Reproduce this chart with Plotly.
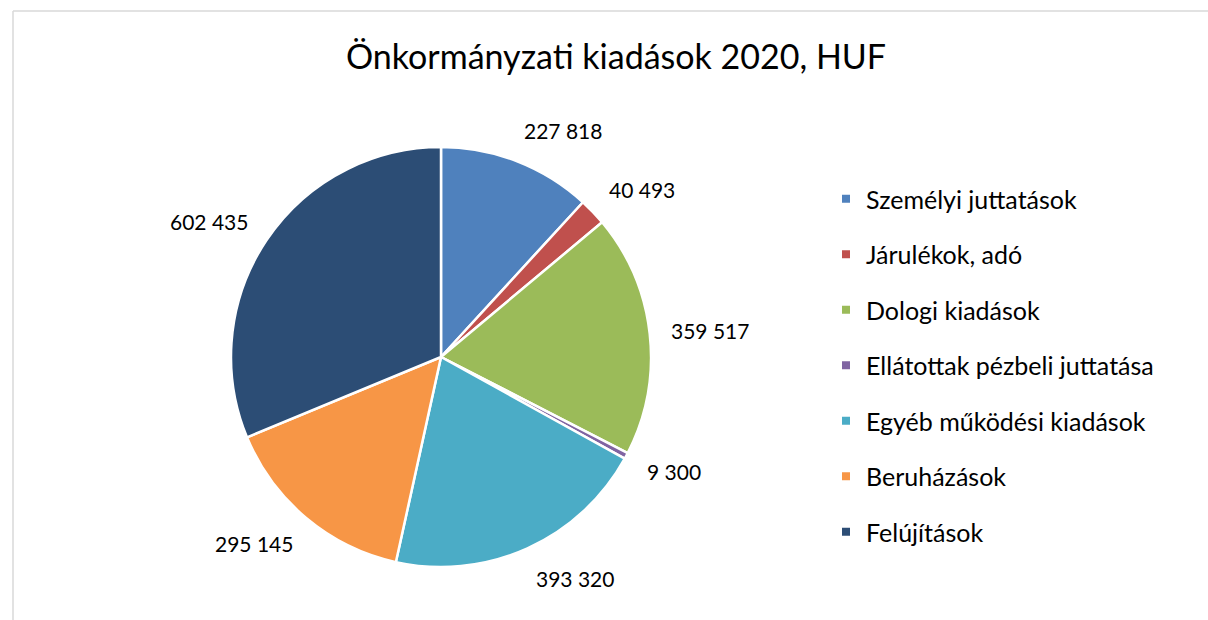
import math
import plotly.graph_objects as go

categories = ["Személyi juttatások", "Járulékok, adó", "Dologi kiadások",
              "Ellátottak pézbeli juttatása", "Egyéb működési kiadások",
              "Beruházások", "Felújítások"]
values = [227818, 40493, 359517, 9300, 393320, 295145, 602435]
colors = ["#4F81BD", "#C0504D", "#9BBB59", "#8064A2", "#4BACC6", "#F79646", "#2C4D75"]
title_text = "Önkormányzati kiadások 2020, HUF"

W, H = 1208, 620
CX, CY, R = 441, 357, 210  # pie centre / radius in px
FONT = "Lato, 'Open Sans', sans-serif"

def fmt(v):
    return f"{v:,}".replace(",", " ")

fig = go.Figure()
fig.add_trace(go.Pie(
    labels=categories, values=values, sort=False, direction="clockwise",
    rotation=0, marker=dict(colors=colors, line=dict(color="white", width=2.5)),
    textinfo="none", hoverinfo="label+value", showlegend=False,
    domain=dict(x=[(CX - R) / W, (CX + R) / W], y=[1 - (CY + R) / H, 1 - (CY - R) / H]),
))

# legend entries (one group each so spacing can be controlled)
for c, col in zip(categories, colors):
    fig.add_trace(go.Scatter(x=[None], y=[None], mode="markers", name=c,
                             legendgroup=c,
                             marker=dict(symbol="square", size=8, color=col)))

# data labels: nearest corner of label box sits just outside the slice at mid-angle
total = sum(values)
cum = 0
annotations = []
for v in values:
    mid = (cum + v / 2) / total * 2 * math.pi
    cum += v
    txt = fmt(v)
    hw = len(txt) * 5.4
    hh = 10
    s, c = math.sin(mid), math.cos(mid)
    d = R + 23
    px = CX + d * s + hw * (1 if s >= 0 else -1)
    py = CY - d * c - hh * c
    annotations.append(dict(x=px / W, y=1 - py / H, xref="paper", yref="paper",
                            text=txt, showarrow=False, xanchor="center", yanchor="middle",
                            font=dict(size=21, color="#000000", family=FONT)))

fig.update_layout(
    width=W, height=H,
    margin=dict(l=0, r=0, t=0, b=0),
    paper_bgcolor="white", plot_bgcolor="white",
    font=dict(family=FONT, color="#000000"),
    title=dict(text=title_text, x=616 / W, xanchor="center", y=1 - 57 / H, yanchor="middle",
               font=dict(size=34, color="#000000", family=FONT)),
    xaxis=dict(visible=False), yaxis=dict(visible=False),
    legend=dict(x=826 / W, xanchor="left", y=1 - 176 / H, yanchor="top",
                font=dict(size=25, color="#000000", family=FONT),
                tracegroupgap=20, itemclick=False, bgcolor="rgba(0,0,0,0)"),
    annotations=annotations,
    shapes=[
        dict(type="line", xref="paper", yref="paper", x0=13 / W, x1=1, y0=1 - 11 / H, y1=1 - 11 / H,
             line=dict(color="#D9D9D9", width=1.5)),
        dict(type="line", xref="paper", yref="paper", x0=13 / W, x1=13 / W, y0=0, y1=1 - 11 / H,
             line=dict(color="#D9D9D9", width=1.5)),
    ],
)

fig.write_html("out.html", config={"displayModeBar": False},
               post_script="document.body.style.margin='0';")
